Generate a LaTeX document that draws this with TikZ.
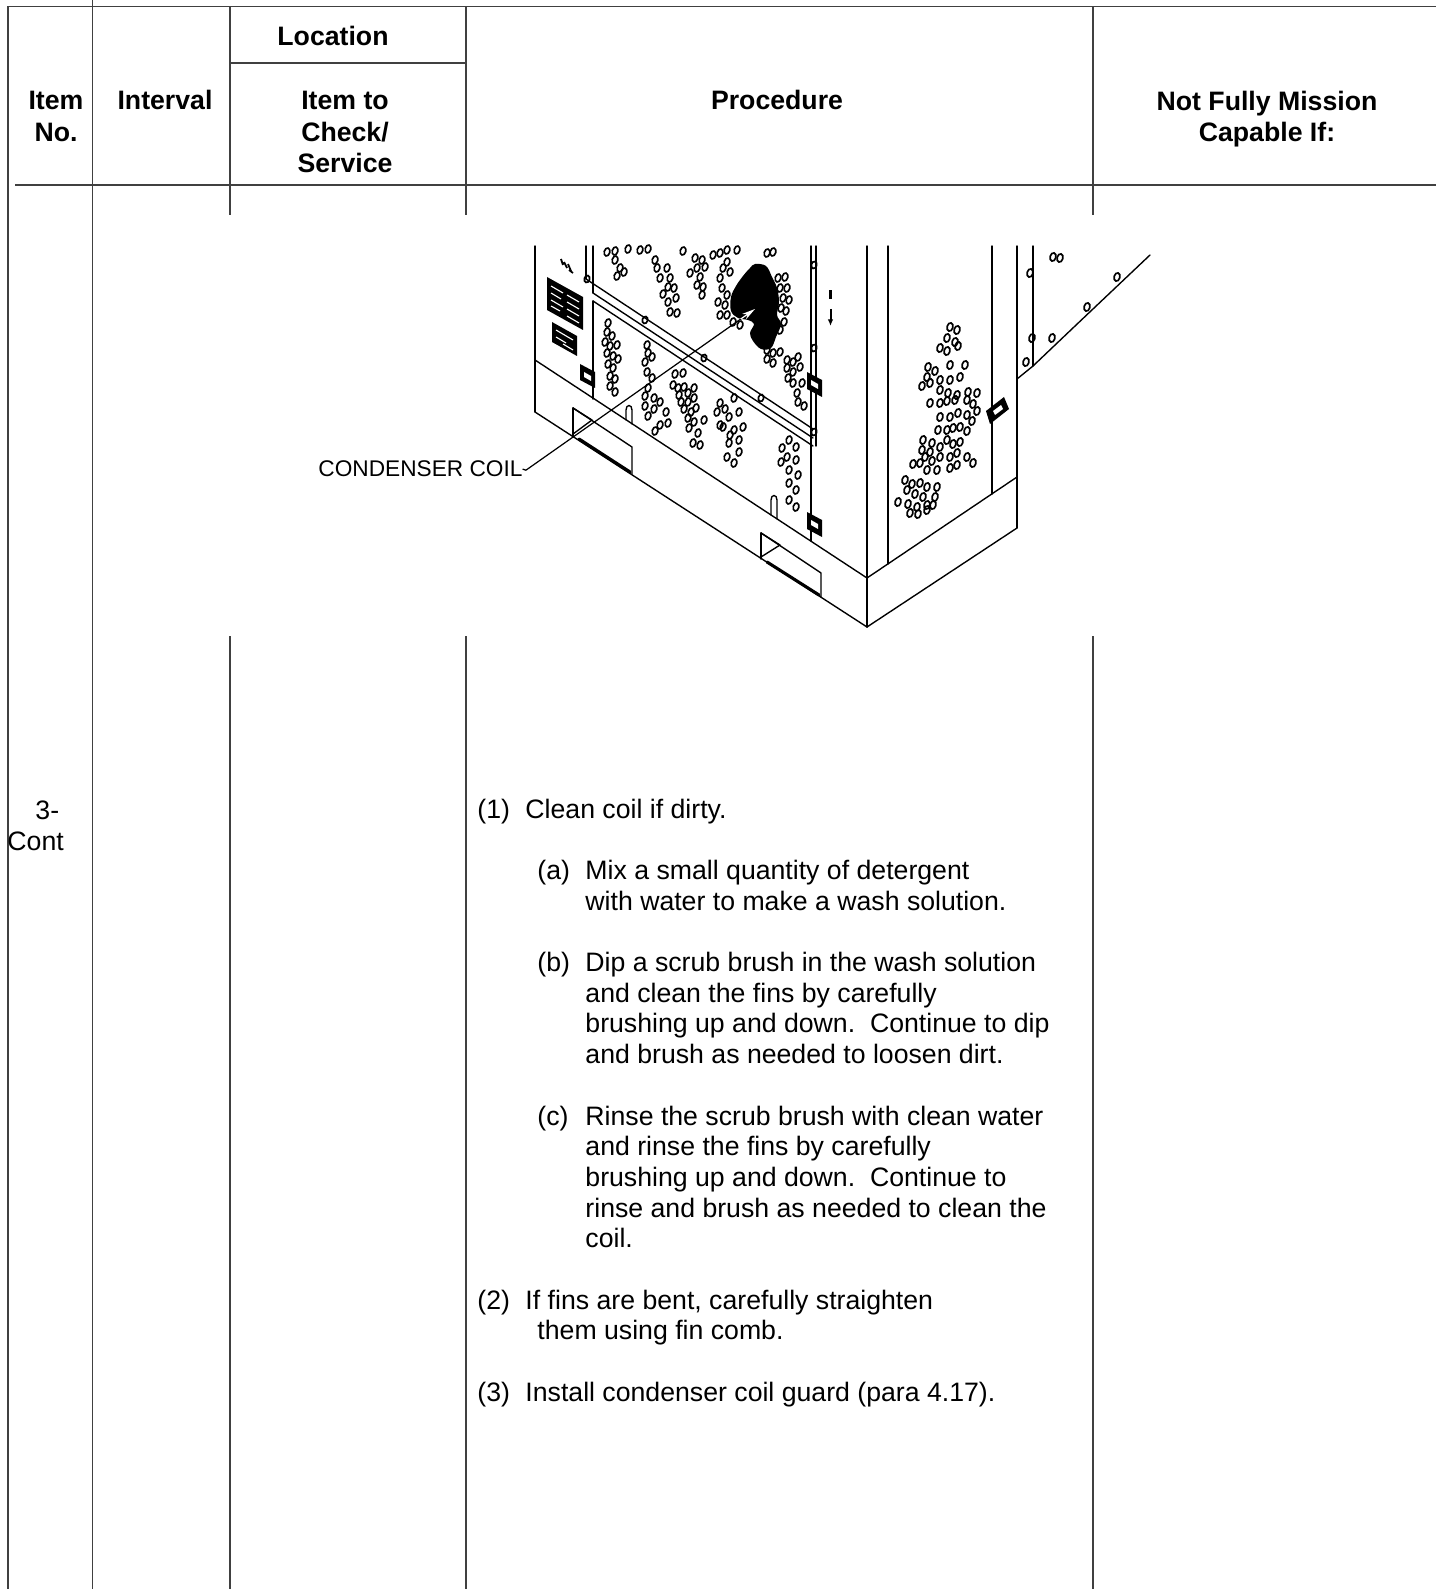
\documentclass[tikz,border=0pt]{standalone}
\usepackage{fontspec}
\setmainfont{Liberation Sans}
\usetikzlibrary{arrows.meta}
\begin{document}
\begin{tikzpicture}[x=0.45pt,y=-0.45pt,
  rule/.style={line width=0.75pt, draw=black!75},
  hdr/.style={font=\fontsize{12}{14}\selectfont\bfseries, anchor=base, inner sep=0pt},
  body/.style={font=\fontsize{12}{14}\selectfont, anchor=base west, inner sep=0pt},
  ink/.style={line width=0.62pt, line cap=round, line join=round},
  hole/.style={line width=0.75pt},
]
\useasboundingbox (0,0) rectangle (1436,1589);
\fill[white] (0,0) rectangle (1436,1589);

% ---------------- table rules ----------------
\draw[rule] (8,6.5) -- (1436,6.5);
\draw[rule] (15,185) -- (1436,185);
\draw[rule] (230,62.7) -- (466,62.7);
\draw[rule] (8,6.5) -- (8,1589);
\draw[rule] (92.5,0) -- (92.5,1589);
\foreach \x in {230,466,1093} {
  \draw[rule] (\x,6.5) -- (\x,215);
  \draw[rule] (\x,636) -- (\x,1589);
}

% ---------------- header ----------------
\node[hdr] (hItem) at (56,110) {Item};
\node[hdr] (hNo) at (56,142) {No.};
\node[hdr] (hInt) at (165,110) {Interval};
\node[hdr] (hLoc) at (333,46) {Location};
\node[hdr] (hIt1) at (345,110) {Item to};
\node[hdr] (hIt2) at (345,142) {Check/};
\node[hdr] (hIt3) at (345,173) {Service};
\node[hdr] (hProc) at (777,110) {Procedure};
\node[hdr] (hNf1) at (1267,111) {Not Fully Mission};
\node[hdr] (hNf2) at (1267,142) {Capable If:};

% ---------------- body text ----------------
\node[body] (n3) at (35,819) {3-};
\node[body] (ncont) at (7,850) {Cont};

\node[body] (p1) at (477,818) {(1)};
\node[body] (p1t) at (525,818) {Clean coil if dirty.};
\node[body] (pa) at (537,879.4) {(a)};
\node[body] (pa1) at (585,879.4) {Mix a small quantity of detergent};
\node[body] (pa2) at (585,910) {with water to make a wash solution.};
\node[body] (pb) at (537,971.5) {(b)};
\node[body] (pb1) at (585,971.5) {Dip a scrub brush in the wash solution};
\node[body] (pb2) at (585,1002.2) {and clean the fins by carefully};
\node[body] (pb3) at (585,1032.9) {brushing up and down.\ \ Continue to dip};
\node[body] (pb4) at (585,1063.6) {and brush as needed to loosen dirt.};
\node[body] (pc) at (537,1125) {(c)};
\node[body] (pc1) at (585,1125) {Rinse the scrub brush with clean water};
\node[body] (pc2) at (585,1155.7) {and rinse the fins by carefully};
\node[body] (pc3) at (585,1186.4) {brushing up and down.\ \ Continue to};
\node[body] (pc4) at (585,1217.1) {rinse and brush as needed to clean the};
\node[body] (pc5) at (585,1247.8) {coil.};
\node[body] (p2) at (477,1309.2) {(2)};
\node[body] (p2t) at (525,1309.2) {If fins are bent, carefully straighten};
\node[body] (p2u) at (537,1339.9) {them using fin comb.};
\node[body] (p3) at (477,1401.3) {(3)};
\node[body] (p3t) at (525,1401.3) {Install condenser coil guard (para 4.17).};

% ---------------- illustration ----------------
\begin{scope}[ink]
% left (front) face
\draw (535,246) -- (535,412);
\draw (535,360) -- (867,578);          % cabinet bottom / skid top
\draw (535,412) -- (867,627);          % skid bottom
\draw (586,246) -- (586,279);
\draw (593,246) -- (593,293);
\draw (586,279) -- (813,429);          % rails
\draw (593,293) -- (813,438);
\draw (593,301) -- (813,446);
\draw (593,301) -- (593,399);          % lower panel edge
\draw (811,246) -- (811,541);
\draw (816,246) -- (816,446);
% corner and right face
\draw (867,246) -- (867,627);
\draw (888,246) -- (888,564);
\draw (992,246) -- (992,494);
\draw (1017,246) -- (1017,528);
\draw (867,578) -- (1017,477);
\draw (867,627) -- (1017,528);
\draw (1033,246) -- (1033,366);
\draw (1017,379) -- (1033,366) .. controls (1075,326) .. (1150,255);
% fork pockets
\draw (573,408) -- (573,436);
\draw (573,408) -- (632,447) -- (632,474);
\draw (573,408) -- (592,420) -- (573,434);
\draw[line width=1.4pt] (579,439) -- (630,472);
\draw (761,533) -- (761,559);
\draw (761,533) -- (821,573) -- (821,597);
\draw (761,533) -- (780,545) -- (761,557);
\draw[line width=1.4pt] (767,562) -- (819,595);
% slots
\draw (626,420) -- (626,410) .. controls (626,404) and (632,404) .. (632,410) -- (632,424);
\draw (771,515) -- (771,500) .. controls (771,494) and (777,494) .. (777,500) -- (777,519);
\end{scope}

% data plates
\fill (547,277) -- (583,297) -- (583,330) -- (547,310) -- cycle;
\draw[white, line width=0.5pt] (551,286) -- (563,293) (567,295) -- (579,302)
  (551,293) -- (561,299) (567,302) -- (579,309)
  (551,300) -- (563,307) (567,309) -- (579,316)
  (551,306) -- (560,311) (567,316) -- (579,323);
\fill (552,322) -- (577,336) -- (577,356) -- (552,342) -- cycle;
\draw[white, line width=0.5pt] (556,330) -- (573,340) (556,337) -- (566,343) (563,344) -- (573,350);
% small lettering mark
\draw[line width=0.8pt] (561,259) -- (563,265) (564,262) -- (567,268) (568,264) -- (571,271) (569,270) -- (573,273);

% latches
\fill (580,364) -- (595,372) -- (595,388) -- (580,380) -- cycle;
\fill[white] (584,372) -- (591,376) -- (591,381) -- (584,377) -- cycle;
\fill (807,372) -- (822,380) -- (822,397) -- (807,389) -- cycle;
\fill[white] (811,380) -- (818,384) -- (818,389) -- (811,385) -- cycle;
\fill (807,512) -- (822,520) -- (822,537) -- (807,529) -- cycle;
\fill[white] (811,520) -- (818,524) -- (818,529) -- (811,525) -- cycle;
\fill (986,411) -- (1004,397) -- (1009,409) -- (990,424) -- cycle;
\fill[white] (993,411) -- (1001,405) -- (1003,409) -- (995,415) -- cycle;

% corner strip marks
\fill (829,290) rectangle (832,299);
\draw[line width=0.9pt, -{Latex[length=3pt,width=2.5pt]}] (830.5,309) -- (830.5,326);

% rail and edge bolts
\foreach \p in {(587,279),(645,320),(704,358),(761,398),(814,265),(814,348),(814,432)}
  \draw[hole, shift={\p}, rotate=-15] (0,0) ellipse [x radius=1.2pt, y radius=1.6pt];

% perforation holes, left face
\foreach \p in {(607,252),(615,251),(628,249),(640,250),(648,249),(615,260),(620,268),(617,276),(624,272),
  (655,260),(657,268),(667,268),(660,278),(670,278),(668,287),(674,288),(663,294),(668,302),(676,298),(670,312),(677,313),
  (683,251),(695,258),(702,260),(705,267),(697,268),(690,273),(700,277),(697,285),(703,287),(702,295),
  (713,255),(720,253),(727,250),(737,250),(727,262),(723,268),(730,272),(720,278),(722,288),(727,295),(718,302),(725,305),(720,315),(727,315),(733,322),(740,325),
  (767,253),(773,252),(778,278),(785,277),(780,288),(787,288),(783,298),(789,300),(781,308),(786,311),(784,322),(780,330),
  (767,350),(773,353),(767,359),(773,363),(780,352),(787,360),(793,362),(798,357),(787,368),(793,372),(800,367),(788,378),(793,383),(802,383),(797,393),(798,402),(804,406),
  (608,323),(607,332),(612,336),(605,342),(610,346),(617,345),(607,353),(613,356),(618,359),(608,364),(613,368),(610,376),(615,379),(610,386),(615,392),
  (647,345),(648,353),(645,362),(652,357),(647,372),(652,378),(648,388),
  (645,396),(654,398),(645,406),(654,409),(648,416),(660,402),(666,412),(668,423),(660,425),(655,431),
  (675,374),(683,373),(673,385),(678,388),(684,387),(679,395),(688,393),(694,388),(681,402),(688,402),(694,398),(684,409),(691,412),(696,408),(688,418),(694,422),(704,420),(689,428),(698,433),(693,443),(700,445),
  (720,403),(734,398),(725,409),(717,412),(729,417),(739,412),(723,427),(734,430),(743,427),(729,443),(739,440),(727,457),(734,463),(739,452),(720,425),(730,435),
  (789,440),(796,447),(787,457),(796,460),(789,470),(798,475),(789,483),(796,490),(789,500),(796,507),(782,448),(781,462)}
  \draw[hole, shift={\p}, rotate=-15] (0,0) ellipse [x radius=1.25pt, y radius=1.85pt];

% perforation holes, right face
\foreach \p in {(950,327),(957,330),(947,338),(955,342),(958,346),(940,348),(947,351),(950,365),(965,365),(928,367),(935,371),(927,377),(940,380),(950,380),(960,377),(922,386),(930,383),(940,390),(948,393),(957,395),(968,392),(977,393),(930,403),(940,403),(947,401),(955,400),(967,400),(973,404),(977,411),(940,417),(950,417),(958,413),(967,415),(972,421),(938,430),(947,430),(953,428),(960,427),(967,431),(923,440),(932,443),(940,447),(947,440),(953,444),(960,442),(922,450),(930,452),(925,457),(932,461),(940,457),(950,457),(957,453),(967,457),(973,463),(913,464),(920,463),(927,470),(937,470),(950,468),(957,465),(905,480),(912,484),(920,483),(927,487),(907,490),(915,494),(923,497),(898,502),(908,504),(917,507),(927,505),(935,497),(937,487),(910,513),(918,514),(927,510),(933,505),
  (1030,273),(1032,338),(1026,362),(1052,338),(1087,307),(1117,277),(1053,257),(1060,258)}
  \draw[hole, shift={\p}, rotate=-15] (0,0) ellipse [x radius=1.3pt, y radius=1.9pt];

% condenser coil highlight
\def\blobpath{plot[smooth cycle, tension=0.6] coordinates {(755,264) (766,266) (772,277) (777,288) (779,302) (777,315) (781,324) (776,337) (771,348) (761,349) (753,341) (750,333) (754,324) (748,320) (738,318) (731,311) (731,297) (736,286) (743,276) (750,268)}}
\fill \blobpath;

% label and leader
\node[font=\fontsize{10.2}{12}\selectfont, anchor=base west, inner sep=0pt] (lbl) at (318,477) {CONDENSER COIL};
\coordinate (coiltip) at (755,309);
\draw[ink, line width=0.55pt, -{Stealth[length=6pt,width=3pt]}] (lbl.east) -- ++(3,1) -- (coiltip);
\begin{scope}
  \clip \blobpath;
  \draw[white, line width=0.55pt, -{Stealth[length=6pt,width=3pt]}] (lbl.east) -- ++(3,1) -- (coiltip);
\end{scope}
\end{tikzpicture}
\end{document}
